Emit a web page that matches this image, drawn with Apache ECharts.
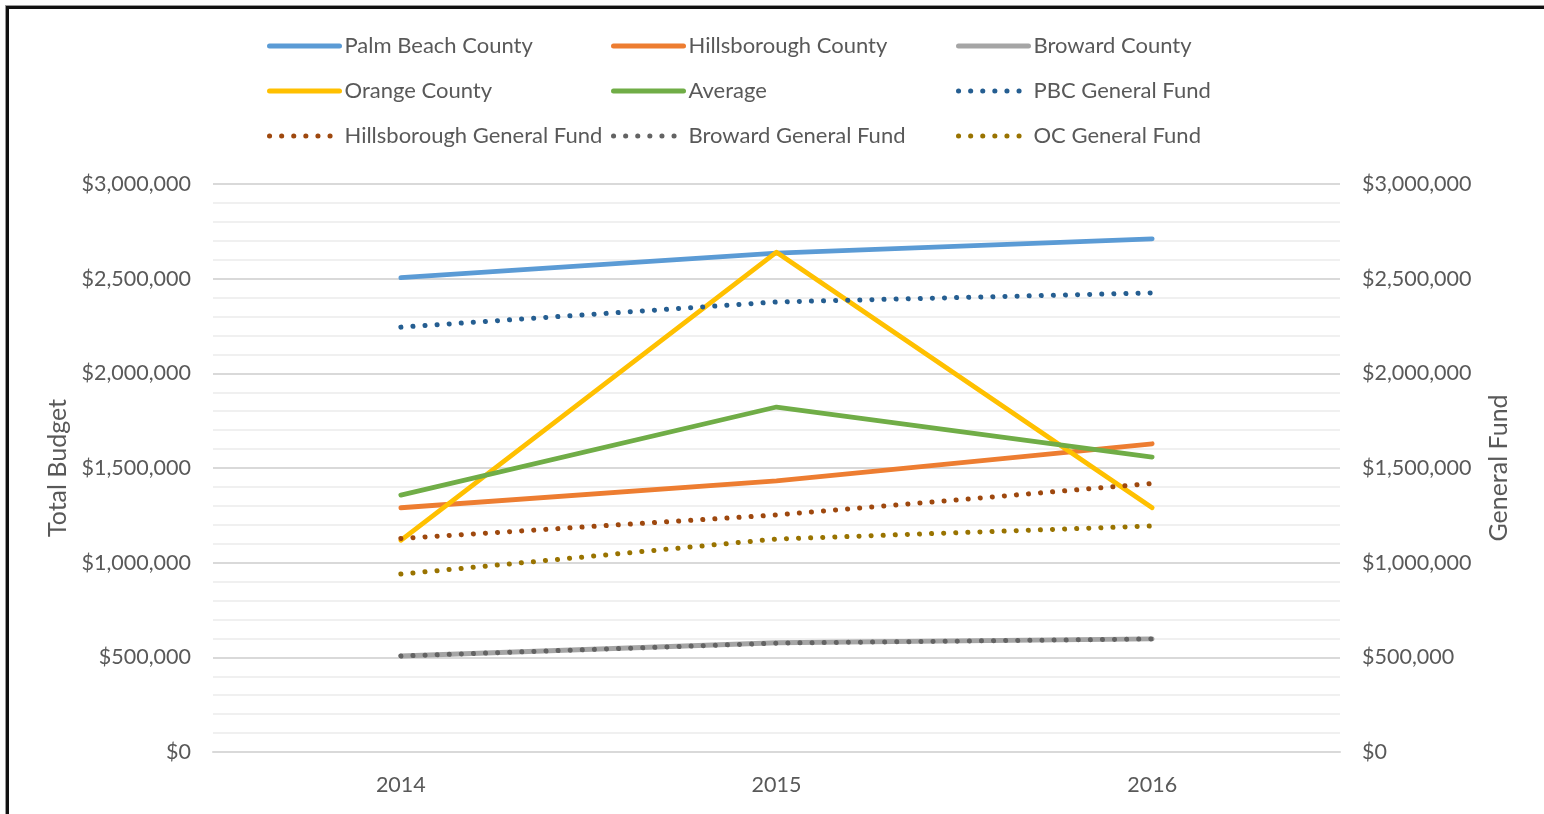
<!DOCTYPE html>
<html lang="en">

<head>
  <meta charset="UTF-8">
  <title>County Budgets</title>
  <script src="https://cdn.jsdelivr.net/npm/echarts@6/dist/echarts.min.js"></script>
  <style>
    html, body { margin: 0; padding: 0; background: #fff; }
    #main { width: 1544px; height: 814px; }
    #frame {
      position: absolute; left: 6px; top: 6px; width: 1560px; height: 830px;
      border-top: 3px solid #111; border-left: 3px solid #111;
      box-shadow: -1px -1px 0 #999; pointer-events: none;
    }
  </style>
</head>

<body>
  <div id="main"></div>
  <div id="frame"></div>

  <script type="text/javascript">
    var years = ['2014', '2015', '2016'];

    // total budget (left axis)
    var palmBeach = [2505000, 2635000, 2710000];
    var hillsborough = [1290000, 1432000, 1628000];
    var broward = [507000, 577000, 597000];
    var orange = [1118000, 2640000, 1290000];
    var average = [1357000, 1822000, 1558000];

    // general fund (right axis)
    var pbcFund = [2244000, 2377000, 2425000];
    var hillsFund = [1128000, 1252000, 1418000];
    var browardFund = [507000, 575000, 597000];
    var ocFund = [940000, 1125000, 1194000];

    var txt = '#595959';
    var font = 'Lato';

    function money(v) {
      return '$' + v.toLocaleString('en-US');
    }

    function solid(name, data, color) {
      return {
        name: name, type: 'line', data: data, yAxisIndex: 0,
        symbol: 'none', color: color,
        lineStyle: { color: color, width: 4.8, cap: 'round', join: 'round' }
      };
    }

    function dotted(name, data, color) {
      return {
        name: name, type: 'line', data: data, yAxisIndex: 1,
        symbol: 'none', color: color,
        lineStyle: { color: color, width: 5, type: [0.1, 12], cap: 'round' }
      };
    }

    function legendCol(left, names) {
      return {
        orient: 'vertical', left: left, top: 35, padding: 0,
        itemWidth: 70, itemHeight: 14, itemGap: 23,
        itemStyle: { opacity: 0 },
        lineStyle: { width: 5 },
        textStyle: { color: txt, fontSize: 22, fontFamily: font },
        data: names
      };
    }

    var yBase = {
      type: 'value', min: 0, max: 3000000, interval: 500000,
      nameLocation: 'middle', nameRotate: 90,
      nameTextStyle: { color: txt, fontSize: 25, fontFamily: font },
      axisLine: { show: false }, axisTick: { show: false },
      axisLabel: { color: txt, fontSize: 21.5, fontFamily: font, margin: 22 }
    };

    var myChart = echarts.init(document.getElementById('main'));
    myChart.setOption({
      animation: false,
      grid: { left: 213, right: 204, top: 184, bottom: 62 },
      legend: [
        legendCol(267, ['Palm Beach County', 'Orange County', 'Hillsborough General Fund']),
        legendCol(611, ['Hillsborough County', 'Average', 'Broward General Fund']),
        legendCol(956, ['Broward County', 'PBC General Fund', 'OC General Fund'])
      ],
      xAxis: {
        type: 'category', data: years, boundaryGap: true,
        axisLine: { lineStyle: { color: '#D9D9D9', width: 2 } },
        axisTick: { show: false },
        axisLabel: { color: txt, fontSize: 21.5, fontFamily: font, margin: 22 }
      },
      yAxis: [
        Object.assign({}, yBase, {
          name: 'Total Budget', nameGap: 141,
          axisLabel: Object.assign({}, yBase.axisLabel, { formatter: money }),
          splitLine: { lineStyle: { color: '#D9D9D9', width: 2 } },
          minorTick: { show: false, splitNumber: 5 },
          minorSplitLine: { show: true, lineStyle: { color: '#F0F0F0', width: 2 } }
        }),
        Object.assign({}, yBase, {
          name: 'General Fund', nameGap: 146, position: 'right',
          axisLabel: Object.assign({}, yBase.axisLabel, { formatter: money }),
          splitLine: { show: false }
        })
      ],
      series: [
        solid('Palm Beach County', palmBeach, '#5B9BD5'),
        solid('Hillsborough County', hillsborough, '#ED7D31'),
        solid('Broward County', broward, '#A5A5A5'),
        solid('Orange County', orange, '#FFC000'),
        solid('Average', average, '#70AD47'),
        dotted('PBC General Fund', pbcFund, '#255E91'),
        dotted('Hillsborough General Fund', hillsFund, '#9E480E'),
        dotted('Broward General Fund', browardFund, '#636363'),
        dotted('OC General Fund', ocFund, '#997300')
      ]
    });
  </script>
</body>

</html>
